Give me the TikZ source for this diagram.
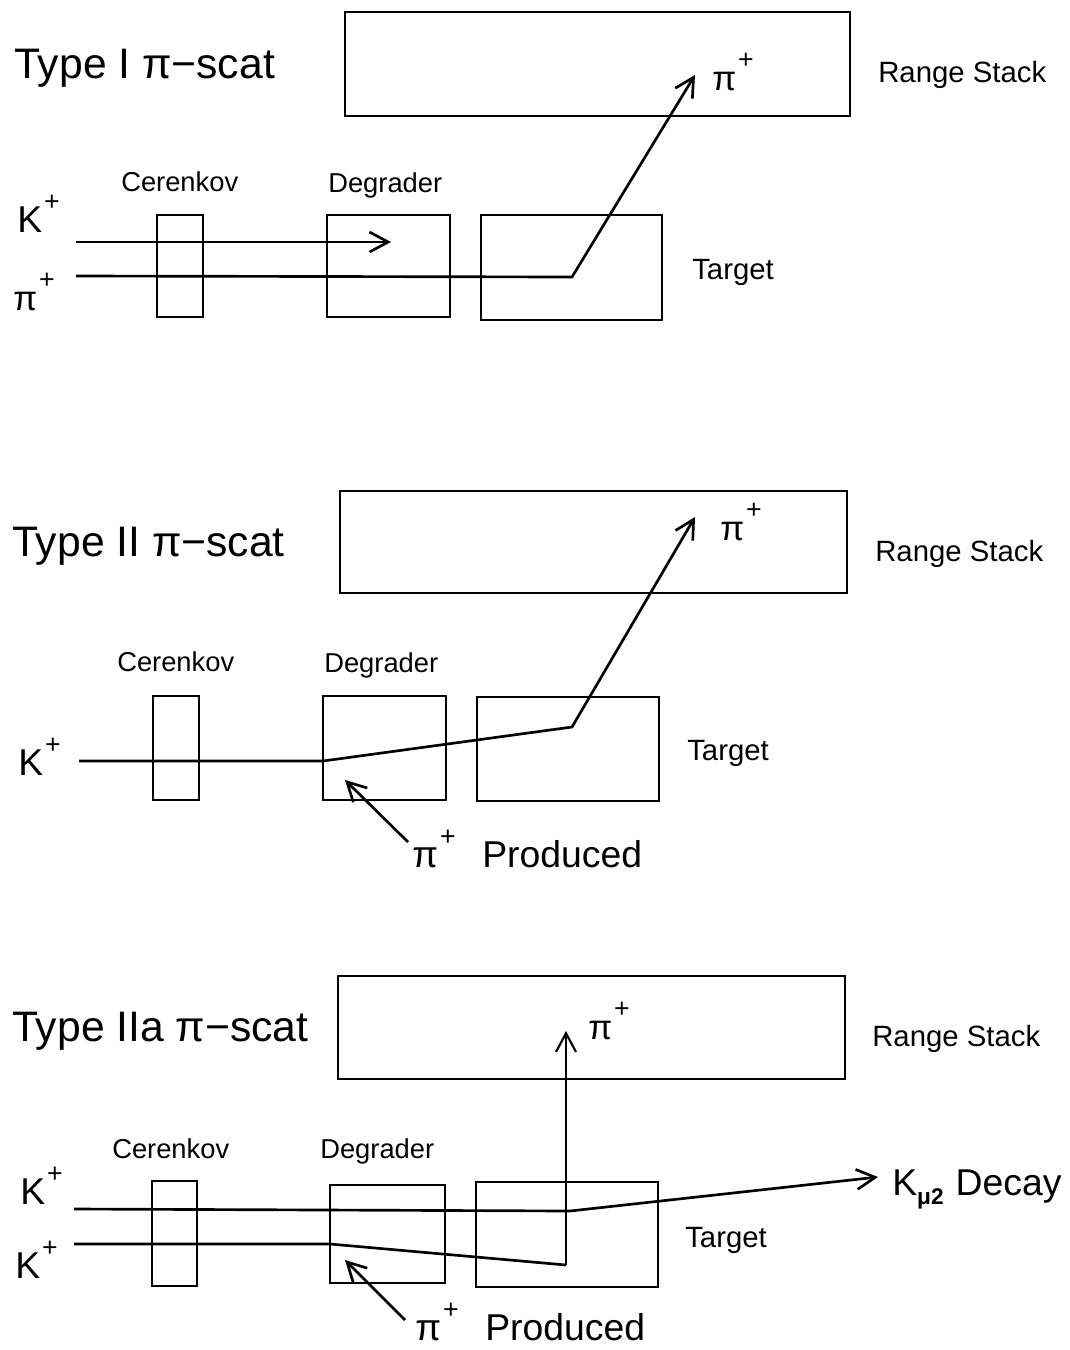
\documentclass[tikz,border=0pt]{standalone}
\usepackage{fontspec}
\setmainfont{Liberation Sans}
\usetikzlibrary{arrows.meta,fit}
% font size helper and raised plus sign for charges
\newcommand{\fsz}[1]{\fontsize{#1}{#1}\selectfont}
\newcommand{\pp}{\hspace{1.5pt}\raisebox{16.5pt}{\fsz{20pt}+}}

\begin{document}
\begin{tikzpicture}[x=0.75pt,y=-0.75pt,
  box/.style={draw, line width=2pt, inner sep=0pt},
  beam/.style={line width=2pt, line join=miter},
  tip/.style={-{Straight Barb[length=14pt,width=15pt]}},
  lbl/.style={anchor=base west, inner sep=0pt},
  title/.style={lbl, font=\fsz{32pt}},
  part/.style={lbl, font=\fsz{20.5pt}},
  side/.style={lbl, font=\fsz{22pt}},
  charge/.style={lbl, font=\fsz{28pt}},
  pion/.style={lbl, font=\fsz{26pt}}]

\fill[white] (0,0) rectangle (1070,1350);
\useasboundingbox (0,0) rectangle (1070,1350);

% ---------------- Type I ----------------
\node[title] (title1) at (14,78) {Type I π−scat};
\node[box, fit={(345,12) (850,116)}] (rs1) {};
\node[side] (rsl1) at (878,82) {Range Stack};
\node[pion] (pi1) at (712,90) {π\pp};
\node[part] (cer1) at (121,191) {Cerenkov};
\node[part] (deg1) at (328,192) {Degrader};
\node[box, fit={(157,215) (203,317)}] (c1) {};
\node[box, fit={(327,215) (450,317)}] (d1) {};
\node[box, fit={(481,215) (662,320)}] (t1) {};
\node[side] (tar1) at (692,279) {Target};
\node[charge] (k1) at (17,232) {K\pp};
\node[pion] (p1) at (13,310) {π\pp};

\coordinate (k1a) at (76,242);
\coordinate (k1b) at (391,242);
\coordinate (p1a) at (76,276);
\coordinate (p1b) at (572,277);
\coordinate (p1c) at (695,75);
\draw[beam,tip] (k1a) -- (k1b);
\draw[beam,tip] (p1a) -- (p1b) -- (p1c);

% ---------------- Type II ----------------
\node[title] (title2) at (12,556) {Type II π−scat};
\node[box, fit={(340,491) (847,593)}] (rs2) {};
\node[side] (rsl2) at (875,561) {Range Stack};
\node[pion] (pi2) at (720,540) {π\pp};
\node[part] (cer2) at (117,671) {Cerenkov};
\node[part] (deg2) at (324,672) {Degrader};
\node[box, fit={(153,696) (199,800)}] (c2) {};
\node[box, fit={(323,696) (446,800)}] (d2) {};
\node[box, fit={(477,697) (659,801)}] (t2) {};
\node[side] (tar2) at (687,760) {Target};
\node[charge] (k2) at (18,775) {K\pp};
\node[charge] (prod2) at (412,867) {π\pp\hspace{20pt}Produced};

\coordinate (k2a) at (79,761);
\coordinate (k2b) at (323,761);
\coordinate (k2c) at (572,727);
\coordinate (k2d) at (695,517);
\coordinate (pr2a) at (408,842);
\coordinate (pr2b) at (345,780);
\draw[beam,tip] (k2a) -- (k2b) -- (k2c) -- (k2d);
\draw[beam,tip] (pr2a) -- (pr2b);

% ---------------- Type IIa ----------------
\node[title] (title3) at (12,1041) {Type IIa π−scat};
\node[box, fit={(338,976) (845,1079)}] (rs3) {};
\node[side] (rsl3) at (872,1046) {Range Stack};
\node[pion] (pi3) at (588,1039) {π\pp};
\node[part] (cer3) at (112,1158) {Cerenkov};
\node[part] (deg3) at (320,1158) {Degrader};
\node[box, fit={(152,1181) (197,1286)}] (c3) {};
\node[box, fit={(330,1185) (445,1283)}] (d3) {};
\node[box, fit={(476,1182) (658,1287)}] (t3) {};
\node[side] (tar3) at (685,1247) {Target};
\node[charge] (k3a) at (20,1204) {K\pp};
\node[charge] (k3b) at (15,1278) {K\pp};
\node[charge] (kmu) at (892,1195) {K\raisebox{-7pt}{\fsz{17pt}\bfseries μ2}\hspace{9pt}Decay};
\node[charge] (prod3) at (415,1340) {π\pp\hspace{20pt}Produced};

\coordinate (u3a) at (74,1209);
\coordinate (u3b) at (570,1211);
\coordinate (u3c) at (878,1177);
\coordinate (l3a) at (74,1244);
\coordinate (l3b) at (330,1244);
\coordinate (l3c) at (566,1265);
\coordinate (l3d) at (566,1031);
\coordinate (pr3a) at (405,1320);
\coordinate (pr3b) at (345,1260);
\draw[beam,tip] (u3a) -- (u3b) -- (u3c);
\draw[beam] (l3a) -- (l3b) -- (l3c);
\draw[line width=1.6pt,tip] (l3c) -- (l3d);
\draw[beam,tip] (pr3a) -- (pr3b);
\end{tikzpicture}
\end{document}
